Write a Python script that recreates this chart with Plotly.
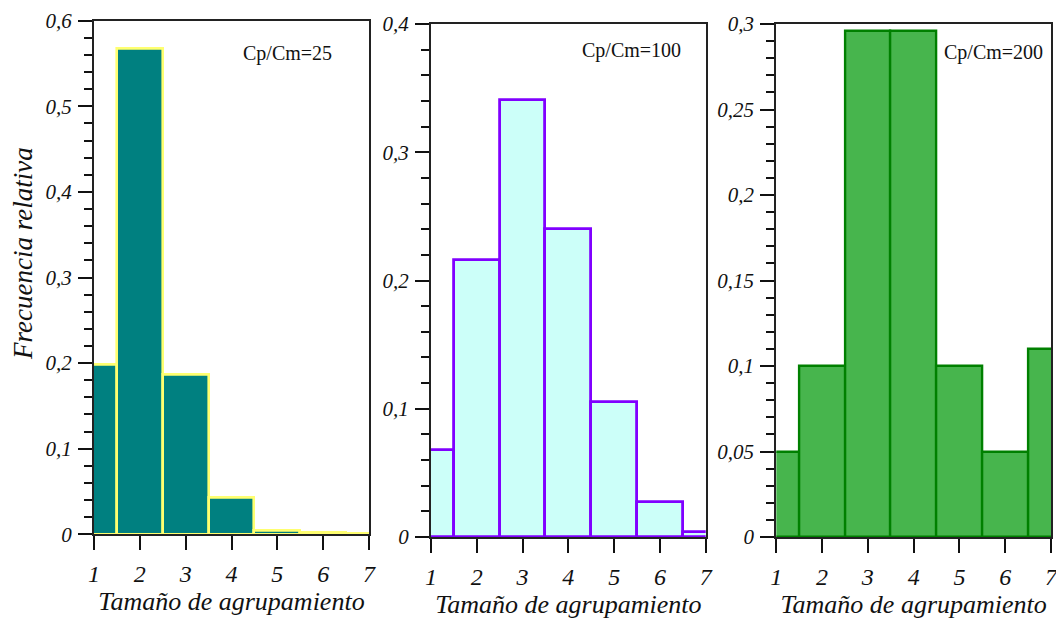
import numpy as np
import plotly.graph_objects as go

# Cluster sizes shared by the three histograms
tamanos = [1, 2, 3, 4, 5, 6, 7]

# Relative frequency for each Cp/Cm ratio
frec_25 = [0.198, 0.567, 0.187, 0.043, 0.004, 0.002, 0.001]
frec_100 = [0.068, 0.216, 0.341, 0.240, 0.105, 0.027, 0.004]
frec_200 = [0.050, 0.100, 0.296, 0.296, 0.100, 0.050, 0.110]

etiquetas = ["Cp/Cm=25", "Cp/Cm=100", "Cp/Cm=200"]

# Y tick values / labels (decimal comma)
ytick_25 = [0, 0.1, 0.2, 0.3, 0.4, 0.5, 0.6]
ytext_25 = ["0", "0,1", "0,2", "0,3", "0,4", "0,5", "0,6"]
ytick_100 = [0, 0.1, 0.2, 0.3, 0.4]
ytext_100 = ["0", "0,1", "0,2", "0,3", "0,4"]
ytick_200 = [0, 0.05, 0.1, 0.15, 0.2, 0.25, 0.3]
ytext_200 = ["0", "0,05", "0,1", "0,15", "0,2", "0,25", "0,3"]
xtick = [1, 2, 3, 4, 5, 6, 7]
xtext = ["1", "2", "3", "4", "5", "6", "7"]

W, H = 1056, 623
SERIF = "Liberation Serif, Times New Roman, DejaVu Serif, serif"

# Plot-area boxes in pixels: (left, top, right, bottom)
boxes = [(94, 20.7, 369, 534.3), (431, 24, 705.7, 537), (776.3, 24, 1051, 537)]

paneles = [
    dict(y=frec_25, fill="#008080", edge="#FFFF70", ew=2.6,
         rng=[0, 0.6], tv=ytick_25, tt=ytext_25, minor=0.02, lab=(287.5, 53)),
    dict(y=frec_100, fill="#CCFFF9", edge="#8000FF", ew=2.8,
         rng=[0, 0.4], tv=ytick_100, tt=ytext_100, minor=0.02, lab=(631.7, 51)),
    dict(y=frec_200, fill="#47B54D", edge="#008000", ew=2.4,
         rng=[0, 0.3], tv=ytick_200, tt=ytext_200, minor=0.01, lab=(993, 52)),
]

fig = go.Figure()
annotations = []

for i, (p, (l, t, r, b)) in enumerate(zip(paneles, boxes), start=1):
    xa = "x" if i == 1 else f"x{i}"
    ya = "y" if i == 1 else f"y{i}"
    fig.add_trace(go.Bar(
        x=tamanos, y=p["y"], width=1,
        marker=dict(color=p["fill"], line=dict(color=p["edge"], width=p["ew"])),
        xaxis=xa, yaxis=ya, showlegend=False,
    ))
    xkey = "xaxis" if i == 1 else f"xaxis{i}"
    ykey = "yaxis" if i == 1 else f"yaxis{i}"
    fig.layout[xkey] = dict(
        domain=[l / W, r / W], anchor=ya, range=[1, 7], automargin=False,
        tickmode="array", tickvals=xtick, ticktext=xtext,
        ticks="outside", ticklen=14, tickwidth=1.8, tickcolor="#111",
        ticklabelstandoff=3, ticklabeloverflow="allow",
        tickfont=dict(family=SERIF, size=24, color="#111", style="italic"),
        showline=True, linecolor="#222", linewidth=2, mirror=True,
        showgrid=False, zeroline=False,
        title=dict(text="Tamaño de agrupamiento", standoff=6,
                   font=dict(family=SERIF, size=26, color="#111", style="italic")),
    )
    fig.layout[ykey] = dict(
        domain=[1 - b / H, 1 - t / H], anchor=xa, range=p["rng"], automargin=False,
        tickmode="array", tickvals=p["tv"], ticktext=p["tt"],
        ticks="outside", ticklen=14, tickwidth=1.8, tickcolor="#111",
        ticklabelstandoff=2, ticklabeloverflow="allow",
        minor=dict(ticks="outside", ticklen=8, tickwidth=1.8, tickcolor="#111",
                   tick0=0, dtick=p["minor"]),
        tickfont=dict(family=SERIF, size=21, color="#111", style="italic"),
        showline=True, linecolor="#222", linewidth=2, mirror=True,
        showgrid=False, zeroline=False,
    )
    annotations.append(dict(
        text=etiquetas[i - 1], xref="paper", yref="paper",
        x=p["lab"][0] / W, y=1 - p["lab"][1] / H,
        xanchor="center", yanchor="middle", showarrow=False,
        font=dict(family=SERIF, size=20, color="#111"),
    ))

annotations.append(dict(
    text="Frecuencia relativa", xref="paper", yref="paper",
    x=23 / W, y=1 - 254 / H, xanchor="center", yanchor="middle",
    textangle=-90, showarrow=False,
    font=dict(family=SERIF, size=27, color="#111", style="italic"),
))

fig.update_layout(
    width=W, height=H, margin=dict(l=0, r=0, t=0, b=0),
    paper_bgcolor="white", plot_bgcolor="white",
    font=dict(family=SERIF),
    bargap=0, annotations=annotations,
)

fig.write_html("out.html")
